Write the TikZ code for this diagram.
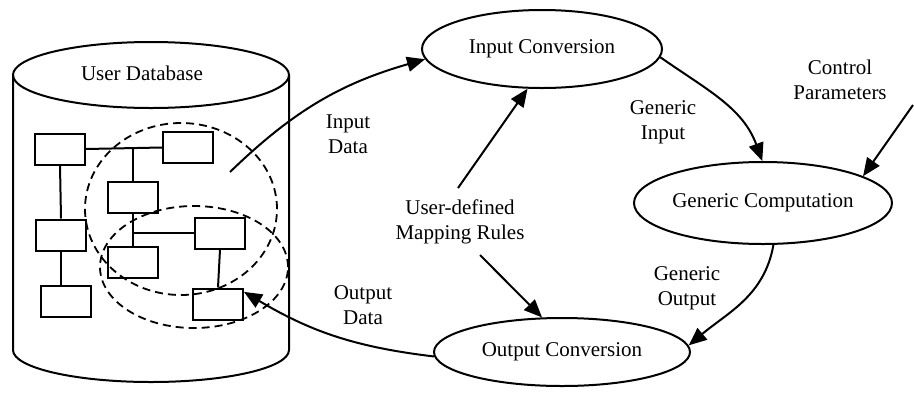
\documentclass[tikz,border=0pt]{standalone}
\usepackage{fontspec}
\setmainfont{Liberation Serif}
\usetikzlibrary{shapes.geometric,arrows.meta,calc}

\begin{document}
\begin{tikzpicture}[x=1pt,y=-1pt,
  every node/.style={font=\fontsize{21}{25}\selectfont},
  proc/.style={ellipse,draw,line width=2pt,inner sep=0pt},
  rec/.style={rectangle,draw,line width=2pt,minimum width=50pt,minimum height=31pt,inner sep=0pt},
  link/.style={line width=2pt},
  flow/.style={line width=2pt,-{Triangle[length=18pt,width=15pt]}},
  region/.style={ellipse,draw,line width=1.8pt,dash pattern=on 8pt off 5pt,inner sep=0pt},
  lbl/.style={align=center,inner sep=0pt}]
\useasboundingbox (0,0) rectangle (914,392);

% database cylinder
\draw[link] (151,75) ellipse [x radius=138pt, y radius=33pt];
\draw[link] (13,75) -- (13,350) arc[start angle=180,end angle=360,x radius=138pt,y radius=32pt] -- (289,75);
\node (dbl) at (142,73) {User Database};

% records stored in the database
\node[rec] (b1) at (60,149) {};
\node[rec] (b2) at (188,147.5) {};
\node[rec] (b3) at (133,197.5) {};
\node[rec] (b4) at (61,235) {};
\node[rec] (b5) at (220,233) {};
\node[rec] (b6) at (133,262.5) {};
\node[rec] (b7) at (66,301.5) {};
\node[rec] (b8) at (218,304) {};

\draw[link] (b1.east) -- (b2.west);
\draw[link] (b3.north) -- (b3.north |- b1.east);
\draw[link] (b1.south) -- (b4.north);
\draw[link] (b4.south) -- (b4.south |- b7.north);
\draw[link] (b3.south) -- (b6.north);
\draw[link] (b5.west) -- (b5.west -| b3.south);
\draw[link] (b5.south) -- (b8.north);

% selected regions
\node[region,minimum width=192pt,minimum height=172pt] (insel) at (181,209) {};
\node[region,minimum width=188pt,minimum height=122pt] (outsel) at (194,267) {};

% processing steps
\node[proc,minimum width=240pt,minimum height=78pt] (ic) at (542,49) {\makebox[0pt]{Input Conversion}};
\node[proc,minimum width=258pt,minimum height=82pt] (gc) at (763,203) {\makebox[0pt]{Generic Computation}};
\node[proc,minimum width=256pt,minimum height=68pt] (oc) at (562,352) {\makebox[0pt]{Output Conversion}};

% labels
\node[lbl] (ldin) at (348,134) {Input\\Data};
\node[lbl] (lmap) at (460,222) {User-defined\\Mapping Rules};
\node[lbl] (lgin) at (663,122) {Generic\\Input};
\node[lbl] (lcp) at (840,80) {Control\\Parameters};
\node[lbl] (ldout) at (363,305) {Output\\Data};
\node[lbl] (lgout) at (687,288) {Generic\\Output};

% connector ends
\coordinate (src) at (230,172);
\coordinate (mrup) at (458,188);
\coordinate (mrdn) at (480,255);
\coordinate (cp) at (913,105);

% data flow
\draw[flow] (src) to[bend left=14] (ic.185);
\draw[flow] (mrup) -- (ic.250);
\draw[flow] (mrdn) -- (oc.120);
\draw[flow] (ic.-4) to[out=-35,in=110] (gc.91);
\draw[flow] (cp) -- (gc.15);
\draw[flow] (gc.-76) to[out=-100,in=40] (oc.3);
\draw[flow] (oc.182) to[bend left=12] (b8.25);
\end{tikzpicture}
\end{document}
